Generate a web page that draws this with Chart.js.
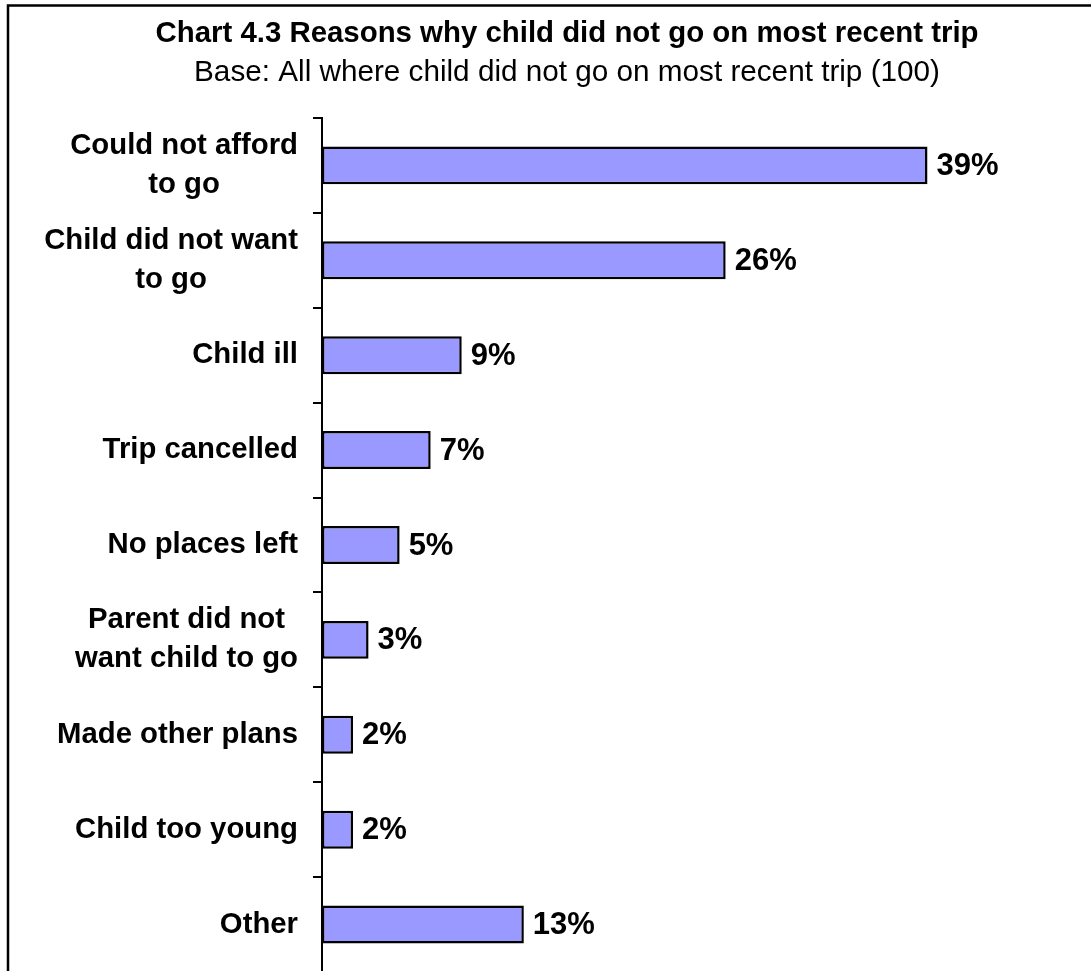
<!DOCTYPE html>
<html>
<head>
<meta charset="utf-8">
<script src="https://cdn.jsdelivr.net/npm/chart.js@4/dist/chart.umd.min.js"></script>
<style>
  html, body { margin: 0; padding: 0; background: #fff; overflow: hidden; }
  #wrap { position: absolute; left: 0; top: 0; }
</style>
</head>
<body>
<div id="wrap"><canvas id="myChart" width="1134" height="1000"></canvas></div>
<script>
const categories = [
    ['Could not afford', 'to go'],
    ['Child did not want', 'to go'],
    'Child ill',
    'Trip cancelled',
    'No places left',
    ['Parent did not', 'want child to go'],
    'Made other plans',
    'Child too young',
    'Other'
];
const values = [39, 26, 9, 7, 5, 3, 2, 2, 13];

const titleText = 'Chart 4.3 Reasons why child did not go on most recent trip';
const subtitleText = 'Base: All where child did not go on most recent trip (100)';

const FONT = '"Liberation Sans", Arial, sans-serif';

// white background and the outer frame (only top/left show, rest is cropped)
const framePlugin = {
    id: 'frame',
    beforeDraw(chart) {
        const ctx = chart.ctx;
        ctx.save();
        ctx.fillStyle = '#fff';
        ctx.fillRect(0, 0, chart.width, chart.height);
        ctx.strokeStyle = '#000';
        ctx.lineWidth = 2.5;
        ctx.strokeRect(8, 5.5, 1118, 1100);
        ctx.restore();
    }
};

// category labels: block right aligned, each line centred in the block
const labelPlugin = {
    id: 'catLabels',
    afterDraw(chart) {
        const ctx = chart.ctx;
        const yScale = chart.scales.y;
        ctx.save();
        ctx.font = 'bold 29.3px ' + FONT;
        ctx.fillStyle = '#000';
        ctx.textAlign = 'center';
        ctx.textBaseline = 'middle';
        categories.forEach(function(lab, i) {
            const lines = Array.isArray(lab) ? lab : [lab];
            const w = Math.max.apply(null, lines.map(function(l) { return ctx.measureText(l).width; }));
            const cx = yScale.right - 24 - w / 2;
            const cy = yScale.getPixelForTick(i);
            lines.forEach(function(l, j) {
                ctx.fillText(l, cx, cy + (j - (lines.length - 1) / 2) * 39);
            });
        });
        // value labels at the end of each bar
        const meta = chart.getDatasetMeta(0);
        ctx.font = 'bold 31px ' + FONT;
        ctx.textAlign = 'left';
        meta.data.forEach(function(bar, i) {
            ctx.fillText(String(values[i]) + '%', bar.x + 9, bar.y + 1);
        });
        ctx.restore();
    }
};

const ctx = document.getElementById('myChart');
const myChart = new Chart(ctx, {
    type: 'bar',
    data: {
        labels: categories,
        datasets: [{
            data: values,
            backgroundColor: '#9999ff',
            borderColor: '#000',
            borderWidth: 2.5,
            borderSkipped: false,
            barPercentage: 0.4,
            categoryPercentage: 1
        }]
    },
    options: {
        indexAxis: 'y',
        responsive: false,
        animation: false,
        layout: {
            padding: { left: 0, right: 0, top: 0, bottom: 28 }
        },
        scales: {
            x: {
                display: false,
                min: 0,
                max: 52.3
            },
            y: {
                afterFit(scale) {
                    scale.width = 322;
                },
                grid: {
                    drawOnChartArea: false,
                    drawTicks: true,
                    tickLength: 9,
                    color: '#000',
                    lineWidth: 2,
                    offset: true
                },
                border: {
                    color: '#000',
                    width: 2
                },
                ticks: {
                    display: false
                }
            }
        },
        plugins: {
            legend: {
                display: false
            },
            tooltip: {
                enabled: false
            },
            title: {
                display: true,
                text: titleText,
                color: '#000',
                font: { family: FONT, size: 29.4, weight: 'bold', lineHeight: 1.2 },
                padding: { top: 16, bottom: 0 }
            },
            subtitle: {
                display: true,
                text: subtitleText,
                color: '#000',
                font: { family: FONT, size: 29.7, weight: 'normal', lineHeight: 1.2 },
                padding: { top: 4, bottom: 27 }
            }
        }
    },
    plugins: [framePlugin, labelPlugin]
});
</script>
</body>
</html>
